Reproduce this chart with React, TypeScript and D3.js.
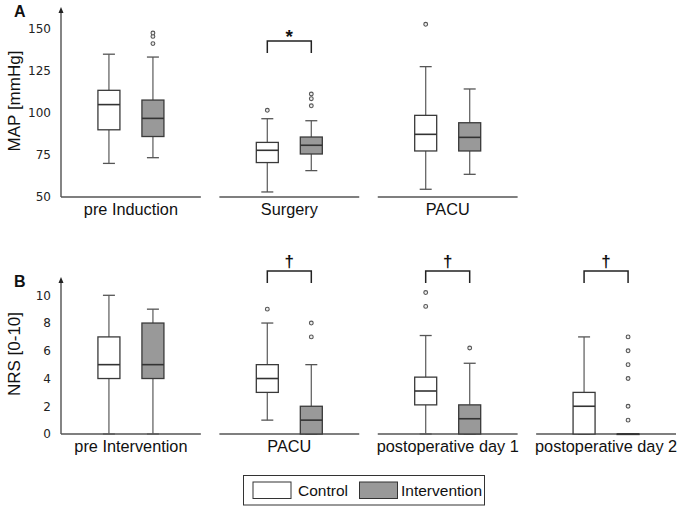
import React from 'react';
import * as d3 from 'd3';

// Panel A: mean arterial pressure, [low whisker, q1, median, q3, high whisker]
const mapCategories = ['pre Induction', 'Surgery', 'PACU'];
const mapTicks = [50, 75, 100, 125, 150];
const mapControl = [
  [70, 90, 105, 113.5, 135],
  [53, 70.5, 77.8, 82.5, 96.6],
  [54.6, 77.4, 87.3, 98.6, 127.6],
];
const mapControlOutliers = [[], [101.6], [152.8]];
const mapIntervention = [
  [73.4, 86, 96.8, 107.7, 133.3],
  [65.7, 75.6, 80.8, 85.7, 95.4],
  [63.5, 77.4, 85.5, 94.2, 114.3],
];
const mapInterventionOutliers = [[141.3, 145.6, 147.6], [104.3, 108.5, 111.3], []];
const mapSignificance = ['', '*', ''];

// Panel B: pain score
const nrsCategories = ['pre Intervention', 'PACU', 'postoperative day 1', 'postoperative day 2'];
const nrsTicks = [0, 2, 4, 6, 8, 10];
const nrsControl = [
  [0, 4, 5, 7, 10],
  [1, 3, 4, 5, 8],
  [0, 2.1, 3.1, 4.1, 7.1],
  [0, 0, 2, 3, 7],
];
const nrsControlOutliers = [[], [9], [9.2, 10.2], []];
const nrsIntervention = [
  [0, 4, 5, 8, 9],
  [0, 0, 1, 2, 5],
  [0, 0, 1.1, 2.1, 5.1],
  [0, 0, 0, 0, 0],
];
const nrsInterventionOutliers = [[], [7, 8], [6.2], [1, 2, 4, 5, 6, 7]];
const nrsSignificance = ['', '†', '†', '†'];

const W = 685;
const H = 506;
const axisX = 61;
const labelFont = '"Liberation Sans", Arial, sans-serif';
const tickFont = '"DejaVu Sans", sans-serif';

const x = d3.scaleBand<number>().domain([0, 1, 2, 3]).range([axisX, 676]).paddingInner(0.117);
const inner = d3.scalePoint<string>().domain(['control', 'intervention']).range([-22, 22]);
const boxW = 22;

type PanelProps = {
  letter: string;
  title: string;
  categories: string[];
  ticks: number[];
  control: number[][];
  controlOut: number[][];
  intervention: number[][];
  interventionOut: number[][];
  sig: string[];
  y: d3.ScaleLinear<number, number>;
  axisTop: number;
  titleY: number;
  bracketTop: number;
  sigY: number;
  sigSize: number;
};

const Box: React.FC<{ cx: number; s: number[]; out: number[]; y: d3.ScaleLinear<number, number>; fill: string }> = ({ cx, s, out, y, fill }) => {
  const [lo, q1, med, q3, hi] = s;
  const cap = 12;
  return (
    <g>
      <line x1={cx} x2={cx} y1={y(hi)} y2={y(q3)} stroke="#666" strokeWidth={1.3} />
      <line x1={cx} x2={cx} y1={y(q1)} y2={y(lo)} stroke="#666" strokeWidth={1.3} />
      <line x1={cx - cap / 2} x2={cx + cap / 2} y1={y(hi)} y2={y(hi)} stroke="#555" strokeWidth={1.3} />
      <line x1={cx - cap / 2} x2={cx + cap / 2} y1={y(lo)} y2={y(lo)} stroke="#555" strokeWidth={1.3} />
      <rect x={cx - boxW / 2} y={y(q3)} width={boxW} height={Math.max(0.5, y(q1) - y(q3))} fill={fill} stroke="#3a3a3a" strokeWidth={1.3} />
      <line x1={cx - boxW / 2} x2={cx + boxW / 2} y1={y(med)} y2={y(med)} stroke="#333" strokeWidth={1.6} />
      {out.map((o, i) => (
        <circle key={i} cx={cx} cy={y(o)} r={1.9} fill="#eee" stroke="#555" strokeWidth={1.1} />
      ))}
    </g>
  );
};

const Panel: React.FC<PanelProps> = (p) => {
  const base = p.y.range()[0];
  return (
    <g>
      <text x={14} y={p.axisTop + 10} fontFamily={labelFont} fontWeight="bold" fontSize={16} fill="#111">{p.letter}</text>
      <text transform={`translate(20,${p.titleY}) rotate(-90)`} textAnchor="middle" fontFamily={labelFont} fontSize={17} fill="#111">{p.title}</text>
      <line x1={axisX} x2={axisX} y1={base} y2={p.axisTop + 5} stroke="#333" strokeWidth={1.2} />
      <path d={`M${axisX - 2.5},${p.axisTop + 6}L${axisX + 2.5},${p.axisTop + 6}L${axisX},${p.axisTop}Z`} fill="#222" />
      {p.ticks.map((t) => (
        <text key={t} x={axisX - 10} y={p.y(t)} dy="0.36em" textAnchor="end" fontFamily={tickFont} fontSize={12} fill="#222">{t}</text>
      ))}
      {p.categories.map((c, i) => {
        const x0 = x(i)!;
        const cx = x0 + x.bandwidth() / 2;
        const cC = cx + inner('control')!;
        const cI = cx + inner('intervention')!;
        return (
          <g key={c}>
            <line x1={x0} x2={x0 + x.bandwidth()} y1={base} y2={base} stroke="#555" strokeWidth={1.3} />
            <Box cx={cC} s={p.control[i]} out={p.controlOut[i]} y={p.y} fill="#fff" />
            <Box cx={cI} s={p.intervention[i]} out={p.interventionOut[i]} y={p.y} fill="#999" />
            <text x={cx} y={base + 18} textAnchor="middle" fontFamily={labelFont} fontSize={16.3} fill="#111">{c}</text>
            {p.sig[i] && (
              <g>
                <path d={`M${cC},${p.bracketTop + 12}V${p.bracketTop}H${cI}V${p.bracketTop + 12}`} fill="none" stroke="#222" strokeWidth={1.5} />
                <text x={(cC + cI) / 2} y={p.sigY} textAnchor="middle" fontFamily={labelFont} fontWeight="bold" fontSize={p.sigSize} fill="#111">{p.sig[i]}</text>
              </g>
            )}
          </g>
        );
      })}
    </g>
  );
};

const App: React.FC = () => {
  const yA = d3.scaleLinear().domain([50, 150]).range([197, 29]);
  const yB = d3.scaleLinear().domain([0, 10]).range([434, 295.3]);
  return (
    <svg width={W} height={H} style={{ position: 'absolute', left: 0, top: 0, background: '#fff' }}>
      <Panel letter="A" title="MAP [mmHg]" categories={mapCategories} ticks={mapTicks}
        control={mapControl} controlOut={mapControlOutliers}
        intervention={mapIntervention} interventionOut={mapInterventionOutliers}
        sig={mapSignificance} y={yA} axisTop={7} titleY={101} bracketTop={41} sigY={43} sigSize={19} />
      <Panel letter="B" title="NRS [0-10]" categories={nrsCategories} ticks={nrsTicks}
        control={nrsControl} controlOut={nrsControlOutliers}
        intervention={nrsIntervention} interventionOut={nrsInterventionOutliers}
        sig={nrsSignificance} y={yB} axisTop={277} titleY={354} bracketTop={271} sigY={267} sigSize={17} />
      <g>
        <rect x={243.5} y={475.5} width={241} height={29.5} fill="#fff" stroke="#333" strokeWidth={1} />
        <rect x={253} y={482} width={38} height={16.5} fill="#fff" stroke="#333" strokeWidth={1} />
        <text x={298} y={496} fontFamily={labelFont} fontSize={15.5} fill="#111">Control</text>
        <rect x={359.5} y={482} width={38} height={16.5} fill="#999" stroke="#333" strokeWidth={1} />
        <text x={401} y={496} fontFamily={labelFont} fontSize={15.5} fill="#111">Intervention</text>
      </g>
    </svg>
  );
};

export default App;
